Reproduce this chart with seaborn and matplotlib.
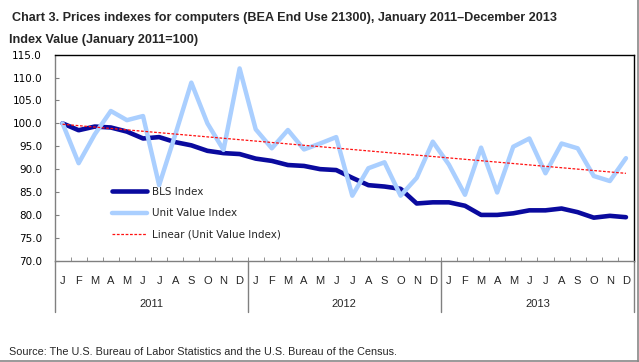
import numpy as np
import pandas as pd
import seaborn as sns
import matplotlib.pyplot as plt
from matplotlib.lines import Line2D
import matplotlib.transforms as mtransforms

# monthly values, Jan 2011 - Dec 2013
months = ['J', 'F', 'M', 'A', 'M', 'J', 'J', 'A', 'S', 'O', 'N', 'D'] * 3
years = ['2011', '2012', '2013']

bls_index = [100.0, 98.5, 99.3, 99.1, 98.2, 96.7, 97.0, 95.9, 95.2, 94.0, 93.5, 93.3,
             92.3, 91.8, 90.9, 90.7, 90.0, 89.8, 88.1, 86.5, 86.2, 85.7, 82.5, 82.75,
             82.75, 82.0, 80.0, 80.0, 80.35, 81.0, 81.0, 81.4, 80.6, 79.4, 79.8, 79.5]

unit_value = [100.0, 91.3, 97.6, 102.7, 100.7, 101.6, 86.5, 97.5, 108.9, 100.0, 94.2, 112.0,
              98.7, 94.55, 98.55, 94.3, 95.6, 97.0, 84.2, 90.2, 91.5, 84.2, 88.1, 96.0,
              91.0, 84.4, 94.7, 84.9, 94.9, 96.7, 89.1, 95.6, 94.55, 88.5, 87.4, 92.4]

yticks = np.arange(70, 115.1, 5)

x = np.arange(len(months))
slope, icpt = np.polyfit(x, unit_value, 1)
trend = slope * x + icpt

df = pd.DataFrame({'m': x, 'bls': bls_index, 'uv': unit_value, 'trend': trend})

sns.set_style('white')
plt.rcParams['font.family'] = ['DejaVu Sans']
narrow = ['Liberation Sans Narrow', 'Liberation Sans', 'DejaVu Sans']

W, H = 639, 362
fig = plt.figure(figsize=(W / 100, H / 100), dpi=100)
left, right, top, bot = 54.5, 634.0, 54.7, 260.7
ax = fig.add_axes([left / W, 1 - bot / H, (right - left) / W, (bot - top) / H])

sns.lineplot(data=df, x='m', y='bls', ax=ax, color='#0A0A9E', lw=3.3, label='BLS Index')
sns.lineplot(data=df, x='m', y='uv', ax=ax, color='#AACFFF', lw=3.2, label='Unit Value Index')
sns.lineplot(data=df, x='m', y='trend', ax=ax, color='#FF1010', lw=0.9,
             dashes=(2.2, 1.3), label='Linear (Unit Value Index)')

ax.set_xlim(-0.5, 35.5)
ax.set_ylim(70, 115)
ax.set_yticks(yticks)
ax.set_yticklabels([f'{v:.1f}' for v in yticks], fontsize=7.5, color='black')
ax.tick_params(axis='y', direction='in', length=3, color='#808080', pad=9, left=True)
ax.set_xlabel('')
ax.set_ylabel('')

# month ticks at boundaries, labels at centres
ax.set_xticks(np.arange(-0.5, 36, 1), minor=True)
ax.set_xticks(x)
ax.set_xticklabels(months, fontsize=8, family=narrow)
ax.tick_params(axis='x', which='major', length=0, pad=11)
ax.tick_params(axis='x', which='minor', direction='in', length=3, color='#808080', bottom=True)

for s in ['top', 'right']:
    ax.spines[s].set_color('black')
    ax.spines[s].set_linewidth(1)
for s in ['left', 'bottom']:
    ax.spines[s].set_color('#808080')
    ax.spines[s].set_linewidth(1)

# year separators and labels
trans = mtransforms.blended_transform_factory(ax.transData, ax.transAxes)
for b in [-0.5, 11.5, 23.5, 35.5]:
    ax.plot([b, b], [0, -51.3 / (bot - top)], color='#808080', lw=1,
            transform=trans, clip_on=False)
for i, yr in enumerate(years):
    ax.text(5.5 + 12 * i, -43.5 / (bot - top), yr, transform=trans, ha='center',
            va='center', fontsize=8, family=narrow)

leg = ax.legend(loc='upper left', bbox_to_anchor=(112 / W, 1 - 187 / H),
                bbox_transform=fig.transFigure, frameon=False, fontsize=7.5,
                handlelength=3.4, handletextpad=0.4, labelspacing=1.1,
                borderpad=0, borderaxespad=0)

fig.text(12 / W, 1 - 18 / H, 'Chart 3. Prices indexes for computers (BEA End Use 21300), '
         'January 2011\u2013December 2013', fontsize=9.1, fontweight='bold',
         family=narrow, va='center')
fig.text(9 / W, 1 - 40 / H, 'Index Value (January 2011=100)', fontsize=9.1,
         fontweight='bold', family=narrow, va='center')
fig.text(9 / W, 1 - 352 / H, 'Source: The U.S. Bureau of Labor Statistics and the U.S. '
         'Bureau of the Census.', fontsize=7.8, family=narrow, va='center')

# outer frame on right and bottom
fig.add_artist(Line2D([637.5 / W, 637.5 / W], [0, 1], color='#888888', lw=1.2,
                      transform=fig.transFigure))
fig.add_artist(Line2D([0, 1], [0.8 / H, 0.8 / H], color='#888888', lw=1.2,
                      transform=fig.transFigure))

fig.savefig('out.png', dpi=100)
